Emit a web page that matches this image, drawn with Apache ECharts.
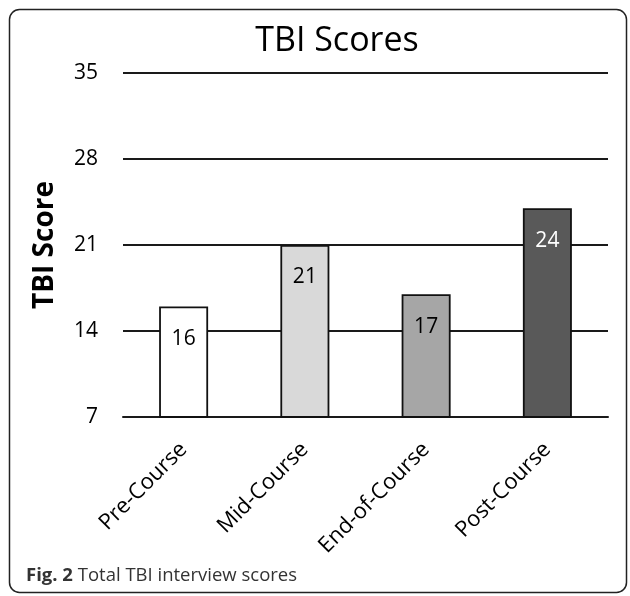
<!DOCTYPE html>
<html>
<head>
<meta charset="utf-8">
<script src="https://cdn.jsdelivr.net/npm/echarts@6/dist/echarts.min.js"></script>
<style>
html,body{margin:0;padding:0;background:#fff;}
#chart{width:630px;height:596px;}
</style>
</head>
<body>
<div id="chart"></div>
<script>
const categories = ['Pre-Course', 'Mid-Course', 'End-of-Course', 'Post-Course'];
const scores = [16, 21, 17, 24];
const barColors = ['#ffffff', '#d9d9d9', '#a6a6a6', '#595959'];
const labelColors = ['#000000', '#000000', '#000000', '#ffffff'];
const yMin = 7, yMax = 35, yStep = 7;
const chartTitle = 'TBI Scores';
const yName = 'TBI Score';
const captionBold = 'Fig. 2';
const captionText = ' Total TBI interview scores';

const FONT = '"Open Sans", sans-serif';
const chart = echarts.init(document.getElementById('chart'), null, {renderer: 'canvas'});
chart.setOption({
  animation: false,
  backgroundColor: '#fff',
  title: {
    text: chartTitle,
    left: 332,
    textAlign: 'center',
    top: 19,
    textStyle: {fontFamily: FONT, fontSize: 34, fontWeight: 'normal', color: '#000'}
  },
  grid: {left: 123, right: 22, top: 73, bottom: 179, containLabel: false},
  xAxis: {
    type: 'category',
    data: categories,
    axisLine: {show: true, lineStyle: {color: '#1a1a1a', width: 2}},
    axisTick: {show: false},
    axisLabel: {
      rotate: 45, margin: 29, interval: 0,
      fontFamily: FONT, fontSize: 22, color: '#000'
    }
  },
  yAxis: {
    type: 'value',
    min: yMin, max: yMax, interval: yStep,
    name: yName,
    nameLocation: 'middle',
    nameRotate: 90,
    nameGap: 64,
    nameTextStyle: {fontFamily: FONT, fontSize: 28, fontWeight: 'bold', color: '#000'},
    axisLine: {show: false},
    axisTick: {show: false},
    axisLabel: {margin: 25, fontFamily: FONT, fontSize: 21, color: '#000'},
    splitLine: {show: true, lineStyle: {color: '#1a1a1a', width: 2}}
  },
  series: [{
    type: 'bar',
    barWidth: 49,
    data: scores.map((v, i) => ({
      value: v,
      itemStyle: {color: barColors[i]},
      label: {color: labelColors[i]}
    })),
    itemStyle: {borderColor: '#111', borderWidth: 1.8},
    label: {
      show: true,
      position: 'insideTop',
      distance: 22,
      fontFamily: FONT,
      fontSize: 21
    }
  }],
  graphic: [
    {
      type: 'rect',
      shape: {x: 9.5, y: 9.5, width: 617, height: 583, r: 10},
      style: {fill: 'none', stroke: '#222', lineWidth: 1.5},
      silent: true
    },
    {
      type: 'text',
      left: 26,
      top: 566,
      style: {
        text: '{b|' + captionBold + '}{r|' + captionText + '}',
        rich: {
          b: {fontFamily: FONT, fontSize: 18.5, fontWeight: 'bold', fill: '#333'},
          r: {fontFamily: FONT, fontSize: 18.5, fill: '#333'}
        }
      }
    }
  ]
});
</script>
</body>
</html>
